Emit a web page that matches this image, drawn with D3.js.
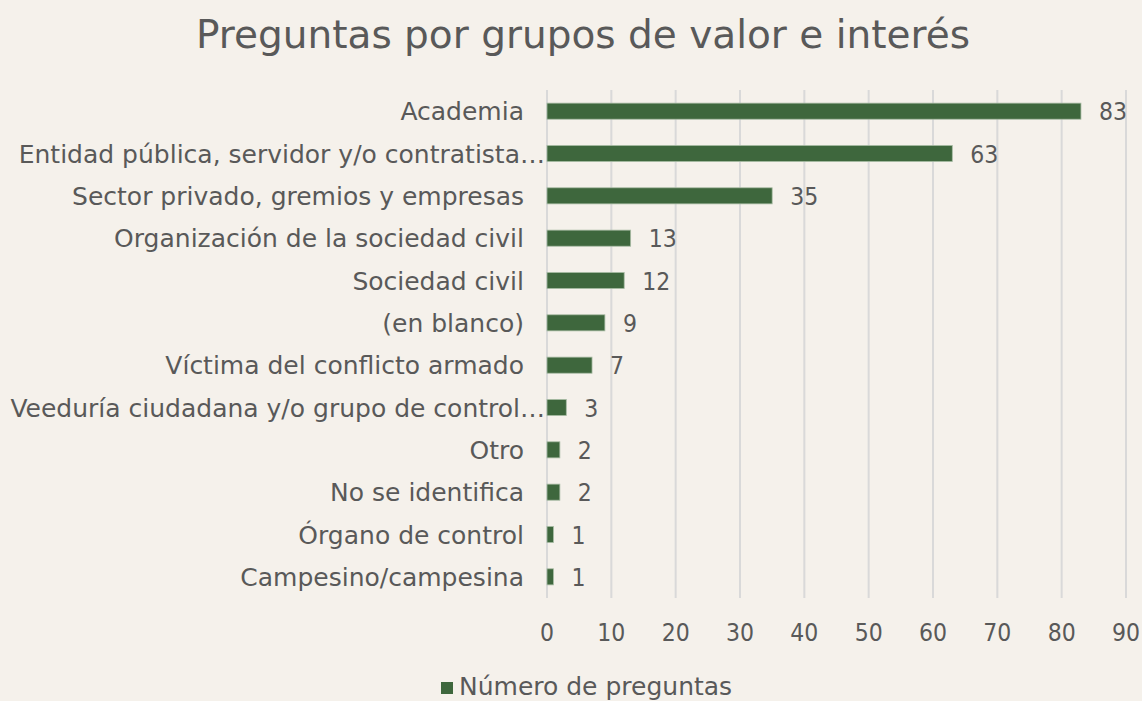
<!DOCTYPE html>
<html>
<head>
<meta charset="utf-8">
<script src="https://cdn.jsdelivr.net/npm/d3@7"></script>
<style>
	body {margin: 0; background: #f5f1eb;}
	text {font-family: "DejaVu Sans", Verdana, sans-serif; fill: #595959;}
	text.num {font-family: "DejaVu Sans Condensed", "DejaVu Sans", sans-serif; font-stretch: condensed;}
</style>
</head>
<body>
<div id="chart"></div>
<script>
(function(){
	var categories = ['Academia', 'Entidad pública, servidor y/o contratista…', 'Sector privado, gremios y empresas',
		'Organización de la sociedad civil', 'Sociedad civil', '(en blanco)', 'Víctima del conflicto armado',
		'Veeduría ciudadana y/o grupo de control…', 'Otro', 'No se identifica', 'Órgano de control', 'Campesino/campesina'];
	var values = [83, 63, 35, 13, 12, 9, 7, 3, 2, 2, 1, 1];
	var ticks = [0, 10, 20, 30, 40, 50, 60, 70, 80, 90];
	var seriesName = 'Número de preguntas';

	var width = 1142, height = 701;
	var left = 547, right = 1126, top = 90, bottom = 598;

	var svg = d3.select('#chart').append('svg')
		.attr('width', width)
		.attr('height', height);

	svg.append('rect').attr('width', width).attr('height', height).attr('fill', '#f5f1eb');

	var x = d3.scaleLinear().domain([0, 90]).range([left, right]);
	var y = d3.scaleBand().domain(categories).range([top, bottom]).paddingInner(0.62).paddingOuter(0.31);

	// gridlines
	svg.append('g').selectAll('line')
		.data(ticks)
		.enter().append('line')
			.attr('x1', function(d){return x(d);})
			.attr('x2', function(d){return x(d);})
			.attr('y1', top)
			.attr('y2', bottom)
			.attr('stroke', '#d9d9d9')
			.attr('stroke-width', 2);

	// x tick labels
	svg.append('g').selectAll('text')
		.data(ticks)
		.enter().append('text')
			.attr('class', 'num')
			.attr('x', function(d){return x(d);})
			.attr('y', 641)
			.attr('text-anchor', 'middle')
			.style('font-size', '24.5px')
			.text(function(d){return d;});

	// bars
	svg.append('g').selectAll('rect')
		.data(values)
		.enter().append('rect')
			.attr('x', x(0))
			.attr('y', function(d,i){return y(categories[i]);})
			.attr('width', function(d){return x(d) - x(0);})
			.attr('height', y.bandwidth())
			.attr('fill', '#3e673d')
			.attr('stroke', '#a9bca5')
			.attr('stroke-width', 0.8);

	// value labels
	svg.append('g').selectAll('text')
		.data(values)
		.enter().append('text')
			.attr('class', 'num')
			.attr('x', function(d){return x(d) + 18;})
			.attr('y', function(d,i){return y(categories[i]) + y.bandwidth() / 2 + 9;})
			.style('font-size', '24.5px')
			.text(function(d){return d;});

	// category labels
	svg.append('g').selectAll('text')
		.data(categories)
		.enter().append('text')
			.attr('x', function(d){return d.slice(-1) === '…' ? 545 : 524;})
			.attr('y', function(d){return y(d) + y.bandwidth() / 2 + 9;})
			.attr('text-anchor', 'end')
			.style('font-size', '25px')
			.text(function(d){return d;});

	// title
	svg.append('text')
		.attr('x', 583)
		.attr('y', 48)
		.attr('text-anchor', 'middle')
		.style('font-size', '39px')
		.text('Preguntas por grupos de valor e interés');

	// legend
	svg.append('rect')
		.attr('x', 441).attr('y', 682)
		.attr('width', 12).attr('height', 12)
		.attr('fill', '#3e673d');
	svg.append('text')
		.attr('x', 459)
		.attr('y', 695)
		.style('font-size', '25px')
		.text(seriesName);
})();
</script>
</body>
</html>
